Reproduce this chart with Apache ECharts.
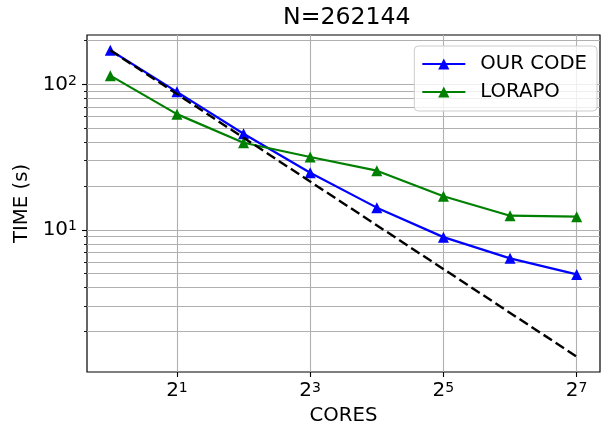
<!DOCTYPE html>
<html>
<head>
<meta charset="utf-8">
<script src="https://cdn.jsdelivr.net/npm/echarts@6/dist/echarts.min.js"></script>
<style>
  html, body { margin: 0; padding: 0; background: #fff; }
  #timeChart { width: 609px; height: 433px; }
</style>
</head>
<body>
<div id="timeChart"></div>
<script>
// values
const cores = [1, 2, 4, 8, 16, 32, 64, 128];
const ourCodeTime = [172, 89, 45.8, 24.7, 14.2, 8.9, 6.36, 4.93];
const lorapoTime = [115, 62.5, 39.7, 31.7, 25.5, 17.0, 12.5, 12.3];
const idealCores = [1, 128];
const idealTime = [172, 1.34];

const xTicks = [2, 8, 32, 128];
const yMajorTicks = [10, 100];
const yMinorTicks = [2, 3, 4, 5, 6, 7, 8, 9, 20, 30, 40, 50, 60, 70, 80, 90, 200];

const FONT = 'DejaVu Sans';

function pairs(xs, ys) {
  return xs.map((x, i) => [x, ys[i]]);
}

const supRich = {
  b: { fontSize: 20, fontFamily: FONT, color: '#000', lineHeight: 20 },
  s: { fontSize: 14, fontFamily: FONT, color: '#000', lineHeight: 14, verticalAlign: 'top' }
};

let chart = echarts.init(document.getElementById('timeChart'));
let option = {
  animation: false,
  backgroundColor: '#fff',
  title: {
    text: 'N=262144',
    left: 283,
    top: 6,
    padding: 0,
    textStyle: { fontFamily: FONT, fontSize: 23.6, fontWeight: 'normal', color: '#000' }
  },
  legend: {
    data: ['OUR CODE', 'LORAPO'],
    orient: 'vertical',
    right: 12,
    top: 46,
    padding: [8, 10, 9, 7],
    itemWidth: 43,
    itemHeight: 14,
    itemGap: 8,
    backgroundColor: 'rgba(255,255,255,0.8)',
    borderColor: '#cccccc',
    borderWidth: 1,
    borderRadius: 4,
    textStyle: { fontFamily: FONT, fontSize: 19.7, color: '#000', padding: [0, 0, 0, 10] }
  },
  grid: {
    left: 87,
    right: 9,
    top: 35,
    bottom: 61,
    show: true,
    borderColor: '#000',
    borderWidth: 1.2
  },
  xAxis: {
    type: 'log',
    logBase: 2,
    min: Math.pow(2, -0.35),
    max: Math.pow(2, 7.35),
    name: 'CORES',
    nameLocation: 'middle',
    nameGap: 33,
    nameTextStyle: { fontFamily: FONT, fontSize: 19.7, color: '#000' },
    axisLine: { show: false },
    axisTick: { show: true, length: 5, customValues: xTicks, lineStyle: { color: '#000', width: 1.1 } },
    axisLabel: {
      customValues: xTicks,
      margin: 9,
      formatter: v => '{b|2}{s|' + Math.round(Math.log2(v)) + '}',
      rich: supRich
    },
    splitLine: { show: true, lineStyle: { color: '#b0b0b0', width: 1.1 } },
    minorTick: { show: false }
  },
  yAxis: [
    {
      type: 'log',
      logBase: 10,
      min: 1.05,
      max: 219,
      name: 'TIME (s)',
      nameLocation: 'middle',
      nameGap: 49,
      nameTextStyle: { fontFamily: FONT, fontSize: 19.7, color: '#000' },
      axisLine: { show: false },
      axisTick: { show: true, length: 5, customValues: yMajorTicks, lineStyle: { color: '#000', width: 1.1 } },
      axisLabel: {
        customValues: yMajorTicks,
        margin: 10,
        formatter: v => '{b|10}{s|' + Math.round(Math.log10(v)) + '}',
        rich: supRich
      },
      splitLine: { show: true, lineStyle: { color: '#b0b0b0', width: 1.1 } }
    },
    {
      type: 'log',
      logBase: 10,
      min: 1.05,
      max: 219,
      position: 'left',
      axisLine: { show: false },
      axisTick: { show: true, length: 3, customValues: yMinorTicks, lineStyle: { color: '#000', width: 0.9 } },
      axisLabel: { show: false },
      splitLine: { show: true, lineStyle: { color: '#b0b0b0', width: 1.1 } }
    }
  ],
  series: [
    {
      name: 'OUR CODE',
      type: 'line',
      data: pairs(cores, ourCodeTime),
      symbol: 'triangle',
      symbolSize: 11,
      color: '#0000ff',
      lineStyle: { width: 2.2, color: '#0000ff' },
      itemStyle: { color: '#0000ff' },
      z: 3
    },
    {
      name: 'LORAPO',
      type: 'line',
      data: pairs(cores, lorapoTime),
      symbol: 'triangle',
      symbolSize: 11,
      color: '#008000',
      lineStyle: { width: 2.2, color: '#008000' },
      itemStyle: { color: '#008000' },
      z: 3
    },
    {
      name: 'ideal',
      type: 'line',
      data: pairs(idealCores, idealTime),
      symbol: 'none',
      lineStyle: { width: 2.4, color: '#000', type: [10, 4.4] },
      z: 4
    }
  ]
};

option && chart.setOption(option);
window.addEventListener('resize', function() {
  chart.resize();
});
</script>
</body>
</html>
